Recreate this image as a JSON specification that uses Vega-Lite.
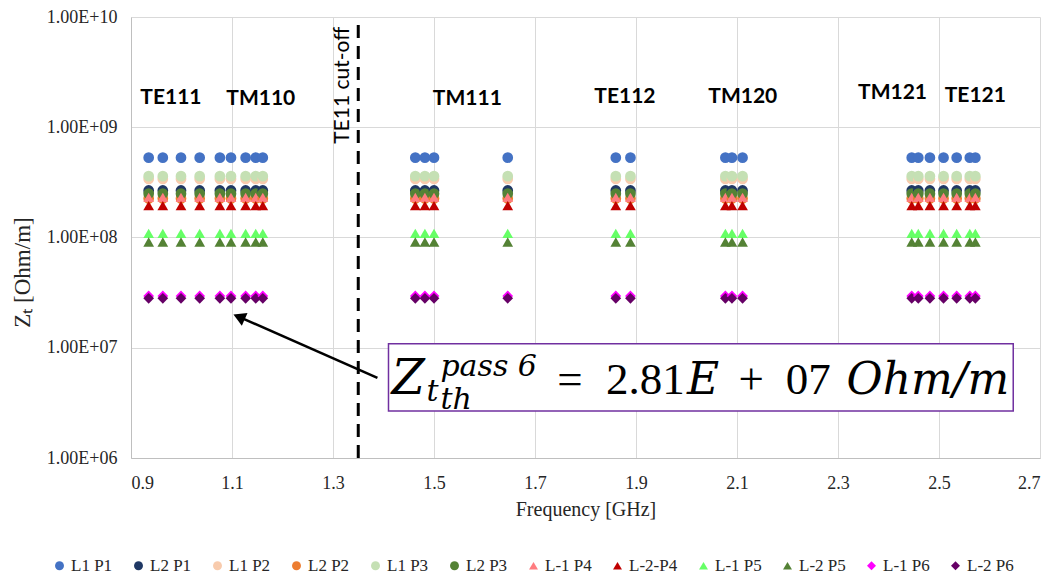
{
  "$schema": "https://vega.github.io/schema/vega-lite/v6.json",
  "width": 909,
  "height": 441,
  "autosize": "none",
  "padding": {"left": 131, "top": 17, "right": 9, "bottom": 119},
  "background": "white",
  "config": {
    "view": {"stroke": null},
    "font": "Liberation Serif",
    "axis": {"labelFont": "Liberation Serif", "titleFont": "Liberation Serif", "labelColor": "#262626", "titleColor": "#262626", "titleFontWeight": "normal", "gridColor": "#D9D9D9", "gridWidth": 1, "domainColor": "#BFBFBF", "ticks": false, "tickSize": 0}
  },
  "datasets": {
    "pts": [
      {"f":0.935,"L1 P1":5.3e8,"L2 P1":2.67e8,"L1 P2":3.4e8,"L2 P2":2.26e8,"L1 P3":3.6e8,"L2 P3":2.5e8,"L-1 P4":2.31e8,"L-2-P4":1.95e8,"L-1 P5":1.09e8,"L-2 P5":9.1e7,"L-1 P6":2.95e7,"L-2 P6":2.81e7},
      {"f":0.963,"L1 P1":5.3e8,"L2 P1":2.67e8,"L1 P2":3.4e8,"L2 P2":2.26e8,"L1 P3":3.6e8,"L2 P3":2.5e8,"L-1 P4":2.31e8,"L-2-P4":1.95e8,"L-1 P5":1.09e8,"L-2 P5":9.1e7,"L-1 P6":2.95e7,"L-2 P6":2.81e7},
      {"f":0.999,"L1 P1":5.3e8,"L2 P1":2.67e8,"L1 P2":3.4e8,"L2 P2":2.26e8,"L1 P3":3.6e8,"L2 P3":2.5e8,"L-1 P4":2.31e8,"L-2-P4":1.95e8,"L-1 P5":1.09e8,"L-2 P5":9.1e7,"L-1 P6":2.95e7,"L-2 P6":2.81e7},
      {"f":1.036,"L1 P1":5.3e8,"L2 P1":2.67e8,"L1 P2":3.4e8,"L2 P2":2.26e8,"L1 P3":3.6e8,"L2 P3":2.5e8,"L-1 P4":2.31e8,"L-2-P4":1.95e8,"L-1 P5":1.09e8,"L-2 P5":9.1e7,"L-1 P6":2.95e7,"L-2 P6":2.81e7},
      {"f":1.076,"L1 P1":5.3e8,"L2 P1":2.67e8,"L1 P2":3.4e8,"L2 P2":2.26e8,"L1 P3":3.6e8,"L2 P3":2.5e8,"L-1 P4":2.31e8,"L-2-P4":1.95e8,"L-1 P5":1.09e8,"L-2 P5":9.1e7,"L-1 P6":2.95e7,"L-2 P6":2.81e7},
      {"f":1.098,"L1 P1":5.3e8,"L2 P1":2.67e8,"L1 P2":3.4e8,"L2 P2":2.26e8,"L1 P3":3.6e8,"L2 P3":2.5e8,"L-1 P4":2.31e8,"L-2-P4":1.95e8,"L-1 P5":1.09e8,"L-2 P5":9.1e7,"L-1 P6":2.95e7,"L-2 P6":2.81e7},
      {"f":1.127,"L1 P1":5.3e8,"L2 P1":2.67e8,"L1 P2":3.4e8,"L2 P2":2.26e8,"L1 P3":3.6e8,"L2 P3":2.5e8,"L-1 P4":2.31e8,"L-2-P4":1.95e8,"L-1 P5":1.09e8,"L-2 P5":9.1e7,"L-1 P6":2.95e7,"L-2 P6":2.81e7},
      {"f":1.147,"L1 P1":5.3e8,"L2 P1":2.67e8,"L1 P2":3.4e8,"L2 P2":2.26e8,"L1 P3":3.6e8,"L2 P3":2.5e8,"L-1 P4":2.31e8,"L-2-P4":1.95e8,"L-1 P5":1.09e8,"L-2 P5":9.1e7,"L-1 P6":2.95e7,"L-2 P6":2.81e7},
      {"f":1.161,"L1 P1":5.3e8,"L2 P1":2.67e8,"L1 P2":3.4e8,"L2 P2":2.26e8,"L1 P3":3.6e8,"L2 P3":2.5e8,"L-1 P4":2.31e8,"L-2-P4":1.95e8,"L-1 P5":1.09e8,"L-2 P5":9.1e7,"L-1 P6":2.95e7,"L-2 P6":2.81e7},
      {"f":1.463,"L1 P1":5.3e8,"L2 P1":2.67e8,"L1 P2":3.4e8,"L2 P2":2.26e8,"L1 P3":3.6e8,"L2 P3":2.5e8,"L-1 P4":2.31e8,"L-2-P4":1.95e8,"L-1 P5":1.09e8,"L-2 P5":9.1e7,"L-1 P6":2.95e7,"L-2 P6":2.81e7},
      {"f":1.482,"L1 P1":5.3e8,"L2 P1":2.67e8,"L1 P2":3.4e8,"L2 P2":2.26e8,"L1 P3":3.6e8,"L2 P3":2.5e8,"L-1 P4":2.31e8,"L-2-P4":1.95e8,"L-1 P5":1.09e8,"L-2 P5":9.1e7,"L-1 P6":2.95e7,"L-2 P6":2.81e7},
      {"f":1.5,"L1 P1":5.3e8,"L2 P1":2.67e8,"L1 P2":3.4e8,"L2 P2":2.26e8,"L1 P3":3.6e8,"L2 P3":2.5e8,"L-1 P4":2.31e8,"L-2-P4":1.95e8,"L-1 P5":1.09e8,"L-2 P5":9.1e7,"L-1 P6":2.95e7,"L-2 P6":2.81e7},
      {"f":1.646,"L1 P1":5.3e8,"L2 P1":2.67e8,"L1 P2":3.4e8,"L2 P2":2.26e8,"L1 P3":3.6e8,"L2 P3":2.5e8,"L-1 P4":2.31e8,"L-2-P4":1.95e8,"L-1 P5":1.09e8,"L-2 P5":9.1e7,"L-1 P6":2.95e7,"L-2 P6":2.81e7},
      {"f":1.86,"L1 P1":5.3e8,"L2 P1":2.67e8,"L1 P2":3.4e8,"L2 P2":2.26e8,"L1 P3":3.6e8,"L2 P3":2.5e8,"L-1 P4":2.31e8,"L-2-P4":1.95e8,"L-1 P5":1.09e8,"L-2 P5":9.1e7,"L-1 P6":2.95e7,"L-2 P6":2.81e7},
      {"f":1.889,"L1 P1":5.3e8,"L2 P1":2.67e8,"L1 P2":3.4e8,"L2 P2":2.26e8,"L1 P3":3.6e8,"L2 P3":2.5e8,"L-1 P4":2.31e8,"L-2-P4":1.95e8,"L-1 P5":1.09e8,"L-2 P5":9.1e7,"L-1 P6":2.95e7,"L-2 P6":2.81e7},
      {"f":2.077,"L1 P1":5.3e8,"L2 P1":2.67e8,"L1 P2":3.4e8,"L2 P2":2.26e8,"L1 P3":3.6e8,"L2 P3":2.5e8,"L-1 P4":2.31e8,"L-2-P4":1.95e8,"L-1 P5":1.09e8,"L-2 P5":9.1e7,"L-1 P6":2.95e7,"L-2 P6":2.81e7},
      {"f":2.09,"L1 P1":5.3e8,"L2 P1":2.67e8,"L1 P2":3.4e8,"L2 P2":2.26e8,"L1 P3":3.6e8,"L2 P3":2.5e8,"L-1 P4":2.31e8,"L-2-P4":1.95e8,"L-1 P5":1.09e8,"L-2 P5":9.1e7,"L-1 P6":2.95e7,"L-2 P6":2.81e7},
      {"f":2.111,"L1 P1":5.3e8,"L2 P1":2.67e8,"L1 P2":3.4e8,"L2 P2":2.26e8,"L1 P3":3.6e8,"L2 P3":2.5e8,"L-1 P4":2.31e8,"L-2-P4":1.95e8,"L-1 P5":1.09e8,"L-2 P5":9.1e7,"L-1 P6":2.95e7,"L-2 P6":2.81e7},
      {"f":2.446,"L1 P1":5.3e8,"L2 P1":2.67e8,"L1 P2":3.4e8,"L2 P2":2.26e8,"L1 P3":3.6e8,"L2 P3":2.5e8,"L-1 P4":2.31e8,"L-2-P4":1.95e8,"L-1 P5":1.09e8,"L-2 P5":9.1e7,"L-1 P6":2.95e7,"L-2 P6":2.81e7},
      {"f":2.459,"L1 P1":5.3e8,"L2 P1":2.67e8,"L1 P2":3.4e8,"L2 P2":2.26e8,"L1 P3":3.6e8,"L2 P3":2.5e8,"L-1 P4":2.31e8,"L-2-P4":1.95e8,"L-1 P5":1.09e8,"L-2 P5":9.1e7,"L-1 P6":2.95e7,"L-2 P6":2.81e7},
      {"f":2.482,"L1 P1":5.3e8,"L2 P1":2.67e8,"L1 P2":3.4e8,"L2 P2":2.26e8,"L1 P3":3.6e8,"L2 P3":2.5e8,"L-1 P4":2.31e8,"L-2-P4":1.95e8,"L-1 P5":1.09e8,"L-2 P5":9.1e7,"L-1 P6":2.95e7,"L-2 P6":2.81e7},
      {"f":2.509,"L1 P1":5.3e8,"L2 P1":2.67e8,"L1 P2":3.4e8,"L2 P2":2.26e8,"L1 P3":3.6e8,"L2 P3":2.5e8,"L-1 P4":2.31e8,"L-2-P4":1.95e8,"L-1 P5":1.09e8,"L-2 P5":9.1e7,"L-1 P6":2.95e7,"L-2 P6":2.81e7},
      {"f":2.535,"L1 P1":5.3e8,"L2 P1":2.67e8,"L1 P2":3.4e8,"L2 P2":2.26e8,"L1 P3":3.6e8,"L2 P3":2.5e8,"L-1 P4":2.31e8,"L-2-P4":1.95e8,"L-1 P5":1.09e8,"L-2 P5":9.1e7,"L-1 P6":2.95e7,"L-2 P6":2.81e7},
      {"f":2.561,"L1 P1":5.3e8,"L2 P1":2.67e8,"L1 P2":3.4e8,"L2 P2":2.26e8,"L1 P3":3.6e8,"L2 P3":2.5e8,"L-1 P4":2.31e8,"L-2-P4":1.95e8,"L-1 P5":1.09e8,"L-2 P5":9.1e7,"L-1 P6":2.95e7,"L-2 P6":2.81e7},
      {"f":2.572,"L1 P1":5.3e8,"L2 P1":2.67e8,"L1 P2":3.4e8,"L2 P2":2.26e8,"L1 P3":3.6e8,"L2 P3":2.5e8,"L-1 P4":2.31e8,"L-2-P4":1.95e8,"L-1 P5":1.09e8,"L-2 P5":9.1e7,"L-1 P6":2.95e7,"L-2 P6":2.81e7}
    ]
  },
  "encoding": {
    "x": {"field": "f", "type": "quantitative", "scale": {"domain": [0.9, 2.7], "nice": false, "zero": false},
      "axis": {"title": "Frequency [GHz]", "values": [0.9, 1.1, 1.3, 1.5, 1.7, 1.9, 2.1, 2.3, 2.5, 2.7], "format": ".1f", "labelFont": "Liberation Serif", "titleFont": "Liberation Serif", "labelFontSize": 18, "titleFontSize": 20, "labelPadding": 16, "titlePadding": 7}},
    "y": {"field": "z", "type": "quantitative", "scale": {"type": "log", "domain": [1e6, 1e10], "nice": false},
      "axis": {"title": "Zₜ [Ohm/m]", "values": [1e6, 1e7, 1e8, 1e9, 1e10], "labelExpr": "'1.00E+' + (datum.value < 1e10 ? '0' : '') + format(log(datum.value)/LN10, '.0f')", "labelFont": "Liberation Serif", "titleFont": "Liberation Serif", "labelFontSize": 18, "titleFontSize": 23, "labelPadding": 14, "titlePadding": 12, "titleY": 255}}
  },
  "layer": [
    {
      "data": {"name": "pts"},
      "transform": [{"fold": ["L1 P1", "L2 P1", "L1 P2", "L2 P2", "L1 P3", "L2 P3", "L-1 P4", "L-2-P4", "L-1 P5", "L-2 P5", "L-1 P6", "L-2 P6"], "as": ["series", "z"]}],
      "mark": {"type": "point", "filled": true, "opacity": 1, "size": 115, "strokeWidth": 0},
      "encoding": {
        "color": {"field": "series", "type": "nominal",
          "scale": {"domain": ["L1 P1", "L2 P1", "L1 P2", "L2 P2", "L1 P3", "L2 P3", "L-1 P4", "L-2-P4", "L-1 P5", "L-2 P5", "L-1 P6", "L-2 P6"],
            "range": ["#4472C4", "#1F3864", "#F8CBAD", "#ED7D31", "#C5E0B4", "#548235", "#FF7C80", "#C00000", "#66FF66", "#548235", "#FF00FF", "#660066"]},
          "legend": {"title": null, "orient": "none", "legendX": -80, "legendY": 540, "direction": "horizontal", "columns": 12, "labelFont": "Liberation Serif", "labelFontSize": 17, "labelColor": "#262626", "symbolSize": 80, "labelOffset": 3, "columnPadding": 17, "symbolStrokeWidth": 0}},
        "shape": {"field": "series", "type": "nominal",
          "scale": {"domain": ["L1 P1", "L2 P1", "L1 P2", "L2 P2", "L1 P3", "L2 P3", "L-1 P4", "L-2-P4", "L-1 P5", "L-2 P5", "L-1 P6", "L-2 P6"],
            "range": ["circle", "circle", "circle", "circle", "circle", "circle", "triangle-up", "triangle-up", "triangle-up", "triangle-up", "diamond", "diamond"]}}
      }
    },
    {
      "data": {"values": [{"f": 1.35, "z": 1e6, "z2": 8.46e9}]},
      "mark": {"type": "rule", "color": "black", "strokeWidth": 3, "strokeDash": [13, 8]},
      "encoding": {"y2": {"field": "z2"}}
    },
    {
      "data": {"values": [
        {"f": 0.979, "z": 1.835e9, "label": "TE111"},
        {"f": 1.157, "z": 1.797e9, "label": "TM110"},
        {"f": 1.566, "z": 1.797e9, "label": "TM111"},
        {"f": 1.878, "z": 1.875e9, "label": "TE112"},
        {"f": 2.1115, "z": 1.875e9, "label": "TM120"},
        {"f": 2.408, "z": 2.04e9, "label": "TM121"},
        {"f": 2.572, "z": 1.913e9, "label": "TE121"}
      ]},
      "mark": {"type": "text", "font": "Lato", "fontWeight": "bold", "fontSize": 21, "color": "black", "align": "center", "baseline": "middle"},
      "encoding": {"text": {"field": "label"}}
    },
    {
      "data": {"values": [{"f": 1.319, "z": 2.4e9, "label": "TE11 cut-off"}]},
      "mark": {"type": "text", "font": "Lato", "fontSize": 21, "color": "black", "align": "center", "baseline": "middle", "angle": 270},
      "encoding": {"text": {"field": "label"}}
    },
    {
      "data": {"values": [{"f": 1.4099, "f2": 2.647, "z": 1.087e7, "z2": 2.675e6}]},
      "mark": {"type": "rect", "fill": "white", "stroke": "#7030A0", "strokeWidth": 1.5},
      "encoding": {"x2": {"field": "f2"}, "y2": {"field": "z2"}}
    },
    {
      "data": {"values": [{"f": 1.388, "f2": 1.114, "z": 5.34e6, "z2": 1.905e7}]},
      "mark": {"type": "rule", "color": "black", "strokeWidth": 2.5},
      "encoding": {"x2": {"field": "f2"}, "y2": {"field": "z2"}}
    },
    {
      "data": {"values": [{"f": 1.114, "z": 1.905e7}]},
      "mark": {"type": "point", "shape": "triangle-up", "filled": true, "color": "black", "opacity": 1, "size": 200, "angle": 293.7, "strokeWidth": 0}
    },
    {
      "data": {"values": [{"f": 1.4158, "z": 3.82e6, "label": "Z"}]},
      "mark": {"type": "text", "font": "DejaVu Serif", "fontStyle": "italic", "fontSize": 48, "color": "black", "align": "left", "baseline": "alphabetic"},
      "encoding": {"text": {"field": "label"}}
    },
    {
      "data": {"values": [{"f": 1.485, "z": 3.3e6, "label": "t"}]},
      "mark": {"type": "text", "font": "DejaVu Serif", "fontStyle": "italic", "fontSize": 30, "color": "black", "align": "left", "baseline": "alphabetic"},
      "encoding": {"text": {"field": "label"}}
    },
    {
      "data": {"values": [{"f": 1.5127, "z": 5.6e6, "label": "pass 6"}, {"f": 1.5127, "z": 2.8e6, "label": "th"}]},
      "mark": {"type": "text", "font": "DejaVu Serif", "fontStyle": "italic", "fontSize": 30, "color": "black", "align": "left", "baseline": "alphabetic"},
      "encoding": {"text": {"field": "label"}}
    },
    {
      "data": {"values": [{"f": 1.7439, "z": 3.82e6, "label": "="}, {"f": 1.8407, "z": 3.82e6, "label": "2.81"}, {"f": 2.1028, "z": 3.82e6, "label": "+"}, {"f": 2.1964, "z": 3.82e6, "label": "07"}]},
      "mark": {"type": "text", "font": "Liberation Serif", "fontSize": 45, "color": "black", "align": "left", "baseline": "alphabetic"},
      "encoding": {"text": {"field": "label"}}
    },
    {
      "data": {"values": [{"f": 2.0008, "z": 3.82e6, "label": "E"}, {"f": 2.317, "z": 3.82e6, "label": "Ohm/m"}]},
      "mark": {"type": "text", "font": "DejaVu Serif", "fontStyle": "italic", "fontSize": 44, "color": "black", "align": "left", "baseline": "alphabetic"},
      "encoding": {"text": {"field": "label"}}
    }
  ]
}
